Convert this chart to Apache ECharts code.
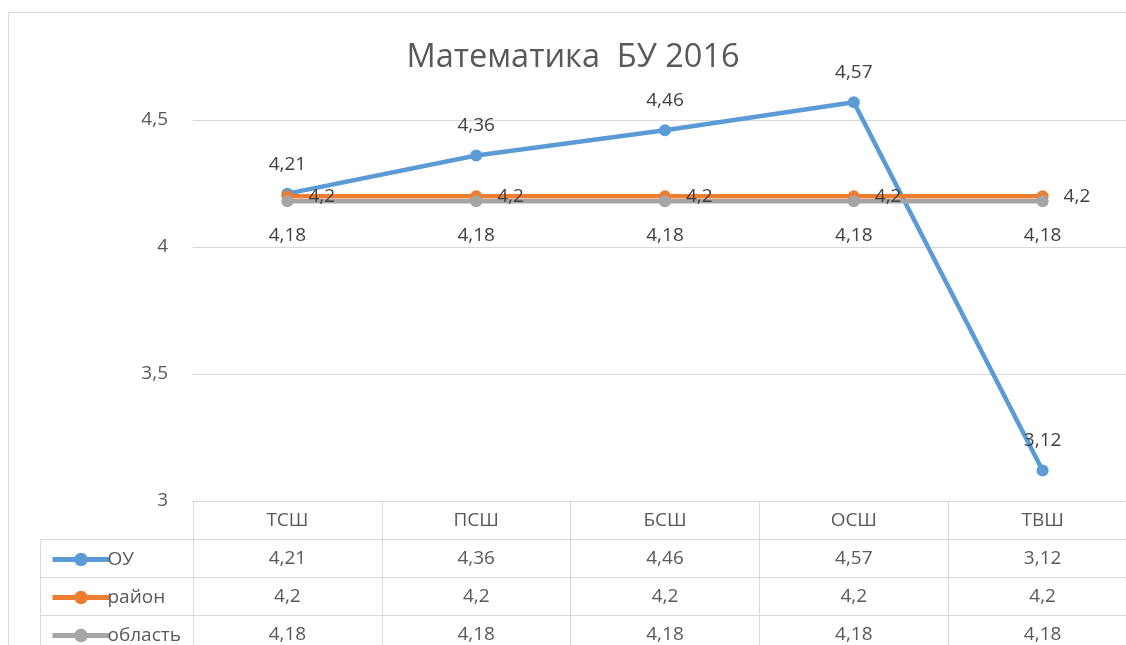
<!DOCTYPE html>
<html>
<head>
<meta charset="utf-8">
<script src="https://cdn.jsdelivr.net/npm/echarts@6/dist/echarts.min.js"></script>
<style>
  html, body { margin: 0; padding: 0; background: #fff; }
  #chart { width: 1126px; height: 645px; }
</style>
</head>
<body>
<div id="chart"></div>
<script>
const categories = ['ТСШ', 'ПСШ', 'БСШ', 'ОСШ', 'ТВШ'];
const seriesNames = ['ОУ', 'район', 'область'];
const ouValues = [4.21, 4.36, 4.46, 4.57, 3.12];
const rayonValues = [4.2, 4.2, 4.2, 4.2, 4.2];
const oblastValues = [4.18, 4.18, 4.18, 4.18, 4.18];
const yMin = 3, yMax = 4.5, yStep = 0.5;

const FONT = '"Open Sans", "Noto Sans", sans-serif';
const TXT = '#595959';
const LINE = '#d9d9d9';
const colors = ['#5b9bd5', '#ed7d31', '#a5a5a5'];
const fmt = v => String(v).replace('.', ',');

const chart = echarts.init(document.getElementById('chart'), null, { renderer: 'canvas' });

// one extra x axis per table row, each shows that series' values under the categories
const tableRows = [ouValues, rayonValues, oblastValues].map((vals, i) => ({
  type: 'category', position: 'bottom', offset: 38 * (i + 1), data: categories,
  axisLine: { show: true, lineStyle: { color: LINE } },
  axisTick: { show: false },
  axisLabel: { interval: 0, margin: 10, color: TXT, fontSize: 19, fontFamily: FONT,
    formatter: (v, idx) => fmt(vals[idx]) }
}));

// one legend per table row so each key sits in its own row
const legends = seriesNames.map((name, i) => ({
  orient: 'vertical', left: 45, top: 545 + 38 * i, itemWidth: 57, itemHeight: 17,
  lineStyle: { width: 5 },
  textStyle: { color: TXT, fontSize: 19, fontFamily: FONT, padding: [0, 0, 0, -7] },
  data: [name]
}));

const mkSeries = (name, data, color, pos, dist) => ({
  name, type: 'line', data, clip: false,
  symbol: 'circle', symbolSize: 12,
  lineStyle: { color, width: 4.5 }, itemStyle: { color },
  label: { show: true, position: pos, distance: dist, color: '#404040', fontSize: 19, fontFamily: FONT,
    formatter: p => fmt(p.value) }
});

chart.setOption({
  animation: false,
  backgroundColor: '#fff',
  graphic: [
    { type: 'rect', shape: { x: 8.5, y: 12.5, width: 1200, height: 700 }, style: { fill: 'none', stroke: LINE, lineWidth: 1 }, silent: true },
    { type: 'text', style: { x: 573, y: 58, text: 'Математика  БУ 2016', textAlign: 'center', textVerticalAlign: 'middle', fill: TXT, fontSize: 32.5, fontFamily: FONT } },
    // legend column borders of the data table
    { type: 'line', shape: { x1: 40, y1: 539.5, x2: 193, y2: 539.5 }, style: { stroke: LINE, lineWidth: 1 } },
    { type: 'line', shape: { x1: 40, y1: 577.5, x2: 193, y2: 577.5 }, style: { stroke: LINE, lineWidth: 1 } },
    { type: 'line', shape: { x1: 40, y1: 615.5, x2: 193, y2: 615.5 }, style: { stroke: LINE, lineWidth: 1 } },
    { type: 'line', shape: { x1: 40.5, y1: 539, x2: 40.5, y2: 660 }, style: { stroke: LINE, lineWidth: 1 } }
  ],
  legend: legends,
  grid: { left: 193, top: 120, width: 944, height: 381, containLabel: false, outerBoundsMode: 'none' },
  xAxis: [
    {
      type: 'category', position: 'bottom', data: categories,
      axisLine: { show: true, lineStyle: { color: LINE } },
      axisTick: { show: true, interval: 0, length: 160, lineStyle: { color: LINE } },
      axisLabel: { interval: 0, margin: 10, color: TXT, fontSize: 19, fontFamily: FONT }
    },
    ...tableRows
  ],
  yAxis: {
    type: 'value', min: yMin, max: yMax, interval: yStep,
    axisLine: { show: false }, axisTick: { show: false },
    axisLabel: { margin: 25, color: TXT, fontSize: 19, fontFamily: FONT, formatter: v => fmt(v) },
    splitLine: { lineStyle: { color: LINE, width: 1 } }
  },
  series: [
    mkSeries(seriesNames[0], ouValues, colors[0], 'top', 14),
    mkSeries(seriesNames[1], rayonValues, colors[1], 'right', 15),
    mkSeries(seriesNames[2], oblastValues, colors[2], 'bottom', 19)
  ]
});
</script>
</body>
</html>
